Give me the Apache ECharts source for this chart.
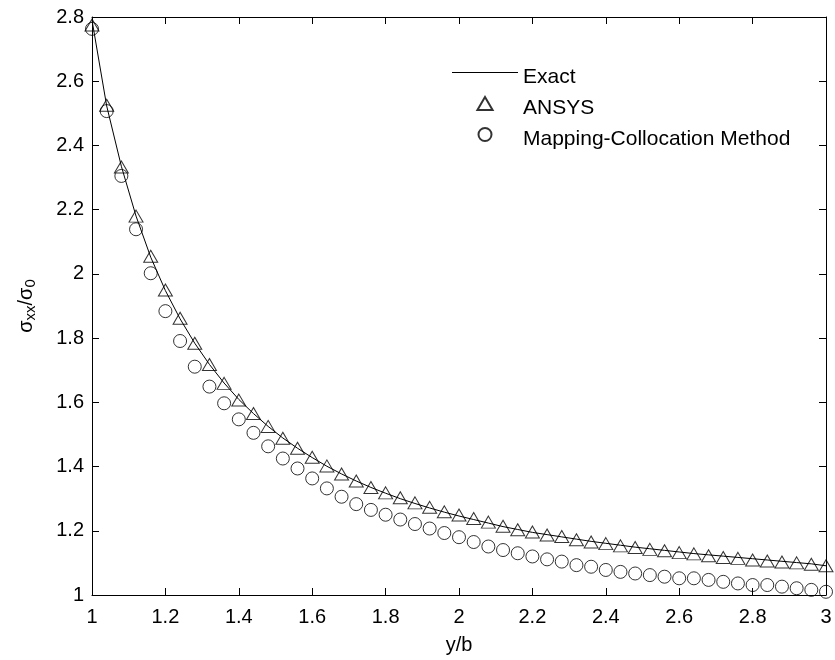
<!DOCTYPE html>
<html>
<head>
<meta charset="utf-8">
<script src="https://cdn.jsdelivr.net/npm/echarts@6/dist/echarts.min.js"></script>
<style>
html,body{margin:0;padding:0;background:#fff;}
#chart{width:835px;height:660px;}
</style>
</head>
<body>
<div id="chart"></div>
<script>
var xValues = [1.00,1.04,1.08,1.12,1.16,1.20,1.24,1.28,1.32,1.36,1.40,1.44,1.48,1.52,1.56,1.60,1.64,1.68,1.72,1.76,1.80,1.84,1.88,1.92,1.96,2.00,2.04,2.08,2.12,2.16,2.20,2.24,2.28,2.32,2.36,2.40,2.44,2.48,2.52,2.56,2.60,2.64,2.68,2.72,2.76,2.80,2.84,2.88,2.92,2.96,3.00];

var exactValues = [2.790,2.523,2.335,2.180,2.052,1.948,1.860,1.784,1.718,1.660,1.609,1.565,1.525,1.489,1.457,1.428,1.401,1.377,1.355,1.335,1.317,1.300,1.285,1.271,1.258,1.246,1.235,1.224,1.213,1.204,1.195,1.188,1.181,1.174,1.167,1.161,1.155,1.149,1.144,1.139,1.134,1.129,1.125,1.121,1.117,1.113,1.109,1.105,1.101,1.097,1.091];

var ansysValues = [2.775,2.525,2.333,2.180,2.055,1.950,1.862,1.784,1.718,1.659,1.607,1.565,1.525,1.488,1.457,1.429,1.402,1.377,1.355,1.335,1.318,1.303,1.287,1.273,1.259,1.249,1.238,1.227,1.214,1.203,1.196,1.187,1.182,1.172,1.165,1.160,1.153,1.148,1.142,1.138,1.132,1.128,1.122,1.117,1.114,1.109,1.106,1.103,1.100,1.096,1.091];

var mcmValues = [2.763,2.507,2.305,2.139,2.002,1.884,1.791,1.711,1.649,1.597,1.547,1.505,1.463,1.425,1.394,1.363,1.332,1.306,1.283,1.265,1.250,1.235,1.221,1.207,1.193,1.180,1.165,1.151,1.140,1.130,1.120,1.111,1.104,1.093,1.088,1.078,1.072,1.067,1.062,1.057,1.052,1.052,1.047,1.041,1.036,1.031,1.031,1.026,1.021,1.016,1.010];

var seriesNames = ['Exact', 'ANSYS', 'Mapping-Collocation Method'];

function pairs(xs, ys) {
  var out = [];
  for (var i = 0; i < xs.length; i++) out.push([xs[i], ys[i]]);
  return out;
}

var FONT = "'Liberation Sans', Arial, sans-serif";
var chart = echarts.init(document.getElementById('chart'), null, {renderer: 'canvas'});

var axisCommon = {
  axisLine: {show: true, onZero: false, lineStyle: {color: '#000', width: 1}},
  axisTick: {show: true, inside: true, length: 7, lineStyle: {color: '#000', width: 1}},
  splitLine: {show: false},
  axisLabel: {color: '#000', fontSize: 20, fontFamily: FONT}
};

var option = {
  animation: false,
  backgroundColor: '#fff',
  textStyle: {fontFamily: FONT},
  grid: {left: 92, right: 9, top: 17, bottom: 65, containLabel: false},
  legend: {
    orient: 'vertical',
    left: 447,
    top: 52,
    itemWidth: 66,
    itemHeight: 13,
    itemGap: 0,
    formatter: '{t|{name}}',
    textStyle: {
      color: '#000', fontSize: 21, fontFamily: FONT,
      rich: {t: {color: '#000', fontSize: 21, fontFamily: FONT, lineHeight: 21, padding: [10, 0, 0, 0]}}
    },
    data: [
      {name: seriesNames[0], icon: 'path://M0 0 H66 V1 H0 Z', itemStyle: {color: '#000', borderWidth: 0}},
      {name: seriesNames[1], icon: 'path://M7 0 L14 12 L0 12 Z'},
      {name: seriesNames[2], icon: 'circle'}
    ]
  },
  xAxis: [
    Object.assign({}, axisCommon, {
      type: 'value', min: 1, max: 3, interval: 0.2, position: 'bottom',
      name: 'y/b', nameLocation: 'middle', nameGap: 40,
      nameTextStyle: {color: '#000', fontSize: 20, fontFamily: FONT},
      axisLabel: {color: '#000', fontSize: 20, fontFamily: FONT, margin: 12}
    }),
    Object.assign({}, axisCommon, {
      type: 'value', min: 1, max: 3, interval: 0.2, position: 'top',
      axisLabel: {show: false}
    })
  ],
  yAxis: [
    Object.assign({}, axisCommon, {
      type: 'value', min: 1, max: 2.8, interval: 0.2, position: 'left',
      name: '{m|σ}{s|xx}{m|/σ}{s|0}', nameLocation: 'middle', nameGap: 54,
      nameTextStyle: {
        color: '#000', fontFamily: FONT,
        rich: {
          m: {fontSize: 20, fontFamily: FONT, color: '#000', lineHeight: 22, verticalAlign: 'top', padding: [0, 0, 9, 0]},
          s: {fontSize: 15, fontFamily: FONT, color: '#000', lineHeight: 16, verticalAlign: 'bottom'}
        }
      },
      axisLabel: {color: '#000', fontSize: 20, fontFamily: FONT, margin: 8}
    }),
    Object.assign({}, axisCommon, {
      type: 'value', min: 1, max: 2.8, interval: 0.2, position: 'right',
      axisLabel: {show: false}
    })
  ],
  series: [
    {
      name: seriesNames[0], type: 'line', xAxisIndex: 0, yAxisIndex: 0,
      data: pairs(xValues, exactValues),
      symbol: 'none', showSymbol: false,
      lineStyle: {color: '#000', width: 1},
      itemStyle: {color: '#000'},
      emphasis: {disabled: true}, z: 2
    },
    {
      name: seriesNames[1], type: 'scatter', xAxisIndex: 0, yAxisIndex: 0,
      data: pairs(xValues, ansysValues),
      symbol: 'triangle', symbolSize: [14, 12],
      itemStyle: {color: 'rgba(0,0,0,0)', borderColor: '#000', borderWidth: 1},
      emphasis: {disabled: true}, z: 3
    },
    {
      name: seriesNames[2], type: 'scatter', xAxisIndex: 0, yAxisIndex: 0,
      data: pairs(xValues, mcmValues),
      symbol: 'circle', symbolSize: 13,
      itemStyle: {color: 'rgba(0,0,0,0)', borderColor: '#000', borderWidth: 1},
      emphasis: {disabled: true}, z: 3
    }
  ]
};
chart.setOption(option);
</script>
</body>
</html>
